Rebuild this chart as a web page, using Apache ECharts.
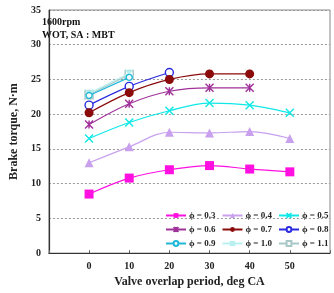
<!DOCTYPE html>
<html>
<head>
<meta charset="utf-8">
<script src="https://cdn.jsdelivr.net/npm/echarts@6/dist/echarts.min.js"></script>
<style>
  html, body { margin: 0; padding: 0; background: #fff; }
  #chart { width: 334px; height: 293px; }
</style>
</head>
<body>
<div id="chart"></div>
<script>
// valve overlap (deg CA)
var overlap = [0, 10, 20, 30, 40, 50];
var xTicks = [0, 10, 20, 30, 40, 50];
var yTicks = [0, 5, 10, 15, 20, 25, 30, 35];

var phiNames = ['ϕ = 0.3', 'ϕ = 0.4', 'ϕ = 0.5', 'ϕ = 0.6', 'ϕ = 0.7', 'ϕ = 0.8', 'ϕ = 0.9', 'ϕ = 1.0', 'ϕ = 1.1'];
var phi03 = [8.5, 10.8, 12.0, 12.6, 12.1, 11.7];
var phi04 = [13.0, 15.3, 17.4, 17.3, 17.5, 16.5];
var phi05 = [16.5, 18.8, 20.5, 21.6, 21.3, 20.2];
var phi06 = [18.5, 21.5, 23.3, 23.8, 23.8];
var phi07 = [20.2, 23.1, 25.0, 25.8, 25.8];
var phi08 = [21.3, 24.0, 26.0];
var phi09 = [22.7, 25.3];
var phi10 = [23.0, 25.9];
var phi11 = [22.8, 25.7];

var crossPath = 'path://M0,0L10,10M10,0L0,10';
var starPath = 'path://M0,0L10,10M10,0L0,10M5,0L5,10';

var styles = [
  {color: '#ff10e0', symbol: 'rect', size: 9, fill: true},
  {color: '#c8a0ee', symbol: 'triangle', size: 9, fill: true},
  {color: '#10e8e8', symbol: crossPath, size: 8, fill: false},
  {color: '#a0309a', symbol: starPath, size: 8, fill: false},
  {color: '#8b0a0a', symbol: 'circle', size: 9, fill: true},
  {color: '#2a2ae0', symbol: 'circle', size: 8, fill: false},
  {color: '#20b8d8', symbol: 'circle', size: 6, fill: false},
  {color: '#b8f0f0', symbol: starPath, size: 8, fill: false},
  {color: '#a8c8c8', symbol: 'rect', size: 8, fill: false}
];
var allData = [phi03, phi04, phi05, phi06, phi07, phi08, phi09, phi10, phi11];

var series = allData.map(function (vals, i) {
  var s = styles[i];
  return {
    name: phiNames[i],
    type: 'line',
    smooth: 0.35,
    data: vals.map(function (v, j) { return [overlap[j], v]; }),
    symbol: s.symbol,
    symbolSize: s.size,
    lineStyle: {color: s.color, width: 1.2},
    itemStyle: {
      color: s.fill ? s.color : '#fff',
      borderColor: s.color,
      borderWidth: s.fill ? 0 : 1.4
    },
    z: 10 - i
  };
});

var serif = '"Liberation Serif", "Times New Roman", serif';

function legendRow(names, top) {
  return {
    data: names,
    left: 165,
    top: top,
    width: 200,
    padding: 0,
    itemWidth: 20,
    itemHeight: 6,
    itemGap: 6,
    textStyle: {fontFamily: serif, fontWeight: 'bold', fontSize: 9, color: '#222', width: 26, padding: [0, 0, 0, -2]},
    selectedMode: false
  };
}

var myChart = echarts.init(document.getElementById('chart'));
var option = {
  animation: false,
  grid: {left: 30, right: 4, top: 10, bottom: 35, show: true, borderColor: '#888', borderWidth: 1},
  legend: [
    legendRow(phiNames.slice(0, 3), 211),
    legendRow(phiNames.slice(3, 6), 225),
    legendRow(phiNames.slice(6, 9), 239)
  ],
  graphic: [
    {type: 'text', left: 42, top: 17, style: {text: '1600rpm', font: 'bold 10px ' + serif, fill: '#111'}},
    {type: 'text', left: 42, top: 30, style: {text: 'WOT, SA : MBT', font: 'bold 10px ' + serif, fill: '#111'}}
  ],
  xAxis: {
    type: 'value',
    min: -10, max: 60, interval: 10,
    name: 'Valve overlap period, deg CA',
    nameLocation: 'middle',
    nameGap: 22,
    nameTextStyle: {fontFamily: serif, fontWeight: 'bold', fontSize: 12, color: '#222'},
    axisLine: {onZero: false, lineStyle: {color: '#333', width: 1.2}},
    axisTick: {show: true, inside: true, length: 3, lineStyle: {color: '#666'}},
    splitLine: {show: false},
    axisLabel: {
      fontFamily: serif, fontWeight: 'bold', fontSize: 10, color: '#222', margin: 8,
      formatter: function (v) { return xTicks.indexOf(v) >= 0 ? String(v) : ''; }
    }
  },
  yAxis: {
    type: 'value',
    min: yTicks[0], max: yTicks[yTicks.length - 1], interval: 5,
    name: 'Brake torque, N·m',
    nameLocation: 'middle',
    nameGap: 20,
    nameTextStyle: {fontFamily: serif, fontWeight: 'bold', fontSize: 12, color: '#222'},
    axisLine: {show: true, onZero: false, lineStyle: {color: '#333', width: 1.2}},
    axisTick: {show: false},
    splitLine: {lineStyle: {color: '#999', type: [2, 2]}},
    axisLabel: {fontFamily: serif, fontWeight: 'bold', fontSize: 10, color: '#222', margin: 8}
  },
  series: series
};
myChart.setOption(option);
</script>
</body>
</html>
